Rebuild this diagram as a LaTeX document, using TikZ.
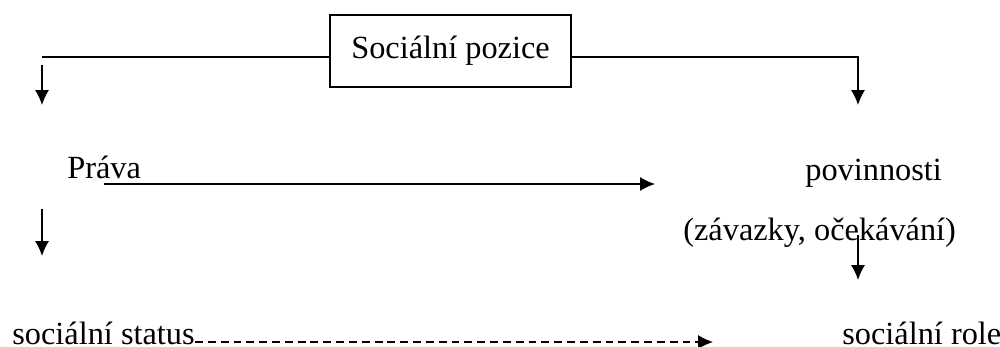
\documentclass[tikz,border=0pt]{standalone}
\usepackage{fontspec}
\setmainfont{Liberation Serif}
\usetikzlibrary{arrows.meta}

\begin{document}
\begin{tikzpicture}[x=0.2mm,y=-0.2mm,
  txt/.style={inner sep=0pt,anchor=base west,font=\fontsize{18.4}{21}\selectfont},
  box/.style={draw=black,thick,minimum width=48.2mm,minimum height=14.4mm,font=\fontsize{18.4}{21}\selectfont},
  sipka/.style={draw=black,thick,-{Latex[length=8.5pt,width=8pt]}},
  carkovana/.style={sipka,dash pattern=on 4.5pt off 2.8pt}]

\useasboundingbox (0,0) rectangle (1000,347);

%pozice
\node[box] (pozice) at (450.5,51) {Sociální pozice};
\coordinate (lt) at (42,57);
\coordinate (rt) at (858,57);
\coordinate (rtip) at (858,105);
\path[draw=black,thick] (pozice.west |- lt) -- (lt);
\path[sipka] (pozice.east |- rt) -| (rtip);
\coordinate (l1) at (42,65);
\coordinate (l2) at (42,105);
\path[sipka] (l1) -- (l2);

%prava
\node[txt] (prava) at (67,178) {Práva};
\node[txt] (povinnosti) at (805,180) {povinnosti};
\node[txt] (zavazky) at (683,240) {(závazky, očekávání)};
\coordinate (p1) at (104,184);
\coordinate (p2) at (655,184);
\path[sipka] (p1) -- (p2);

%dolu
\coordinate (d1) at (42,209);
\coordinate (d2) at (42,256);
\path[sipka] (d1) -- (d2);
\coordinate (d3) at (858,235);
\coordinate (d4) at (858,280);
\path[sipka] (d3) -- (d4);

%status
\node[txt] (status) at (12,344) {sociální status};
\node[txt] (role) at (842,344) {sociální role};
\coordinate (s2) at (713,342);
\path[carkovana] (status.base east |- s2) -- (s2);

\end{tikzpicture}
\end{document}
